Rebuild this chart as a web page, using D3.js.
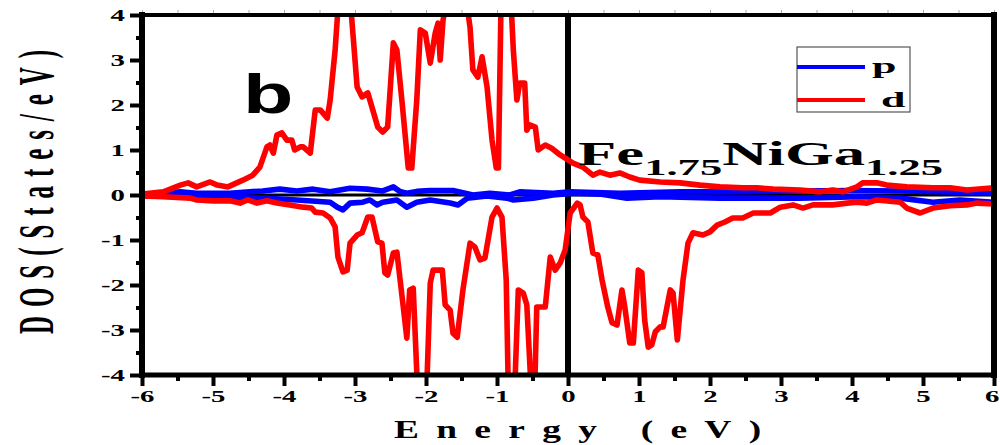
<!DOCTYPE html>
<html>
<head>
<meta charset="utf-8">
<script src="https://cdn.jsdelivr.net/npm/d3@7"></script>
<style>
  body { margin: 0; background: #ffffff; }
  svg { display: block; }
</style>
</head>
<body>
<svg id="chart" width="1000" height="445"></svg>
<script>
// ---- tick values ----
const xTickValues = [-6, -5, -4, -3, -2, -1, 0, 1, 2, 3, 4, 5, 6];
const yTickValues = [-4, -3, -2, -1, 0, 1, 2, 3, 4];
const xMinorTicks = [-5.5, -4.5, -3.5, -2.5, -1.5, -0.5, 0.5, 1.5, 2.5, 3.5, 4.5, 5.5];
const yMinorTicks = [-3.5, -2.5, -1.5, -0.5, 0.5, 1.5, 2.5, 3.5];

const legendLabels = ["p", "d"];

// ---- d states, spin up ----
const dUpEnergy = [-6.00,-5.70,-5.46,-5.35,-5.23,-5.04,-4.94,-4.79,-4.58,-4.44,-4.34,-4.24,-4.20,-4.15,-4.10,-4.03,-3.96,-3.89,-3.85,-3.77,-3.73,-3.63,-3.56,-3.49,-3.39,-3.35,-3.28,-3.22,-3.12,-3.06,-3.03,-2.97,-2.90,-2.82,-2.72,-2.68,-2.61,-2.54,-2.46,-2.41,-2.34,-2.25,-2.20,-2.13,-2.08,-2.01,-1.94,-1.87,-1.83,-1.80,-1.76,-1.68,-1.55,-1.44,-1.38,-1.34,-1.27,-1.21,-1.14,-1.07,-1.01,-0.98,-0.94,-0.86,-0.80,-0.77,-0.72,-0.68,-0.61,-0.58,-0.54,-0.46,-0.42,-0.32,-0.23,-0.11,0.07,0.21,0.35,0.45,0.59,0.73,0.87,1.01,1.30,1.58,1.86,2.14,2.46,2.66,2.89,3.27,3.55,3.73,3.87,4.07,4.15,4.35,4.49,4.77,5.14,5.38,5.62,6.00];
const dUpDos    = [0.02,0.07,0.22,0.27,0.18,0.29,0.22,0.18,0.33,0.44,0.62,1.07,1.11,0.93,1.33,1.38,1.22,1.22,1.00,1.07,1.07,0.93,1.89,1.89,1.71,2.11,3.22,4.60,4.90,4.20,3.60,2.40,2.18,2.27,1.73,1.51,1.40,1.51,3.38,3.22,2.11,0.60,0.60,2.11,3.67,3.60,2.93,3.60,3.82,3.00,3.89,4.50,4.90,4.40,3.73,2.78,2.62,3.07,2.40,1.22,0.60,0.60,4.60,4.80,4.20,3.22,2.11,2.49,2.49,1.44,1.56,1.51,1.00,1.11,1.04,0.89,0.71,0.62,0.44,0.51,0.44,0.49,0.40,0.33,0.29,0.27,0.22,0.18,0.16,0.16,0.13,0.11,0.07,0.11,0.07,0.18,0.27,0.27,0.22,0.18,0.16,0.16,0.11,0.16];

// ---- d states, spin down ----
const dDownEnergy = [-6.00,-5.70,-5.32,-5.23,-5.00,-4.76,-4.62,-4.51,-4.38,-4.24,-4.10,-3.92,-3.73,-3.61,-3.56,-3.45,-3.35,-3.28,-3.24,-3.17,-3.11,-3.07,-2.97,-2.90,-2.82,-2.76,-2.68,-2.62,-2.58,-2.54,-2.46,-2.41,-2.32,-2.27,-2.23,-2.18,-2.12,-2.06,-1.99,-1.94,-1.90,-1.77,-1.73,-1.66,-1.62,-1.56,-1.48,-1.38,-1.31,-1.24,-1.17,-1.07,-1.00,-0.93,-0.87,-0.84,-0.80,-0.75,-0.70,-0.63,-0.58,-0.52,-0.47,-0.44,-0.32,-0.25,-0.18,-0.11,-0.04,0.03,0.13,0.17,0.21,0.28,0.35,0.42,0.48,0.56,0.62,0.69,0.76,0.80,0.87,0.92,0.99,1.04,1.08,1.13,1.18,1.23,1.30,1.34,1.44,1.48,1.54,1.62,1.69,1.76,1.90,2.00,2.10,2.21,2.32,2.46,2.61,2.85,2.99,3.17,3.31,3.45,3.73,3.93,4.07,4.21,4.35,4.68,4.77,4.96,5.14,5.38,5.62,5.76,6.00];
const dDownDos    = [-0.02,-0.04,-0.07,-0.11,-0.13,-0.13,-0.18,-0.11,-0.18,-0.13,-0.18,-0.22,-0.27,-0.29,-0.38,-0.40,-0.51,-0.71,-1.38,-1.71,-1.67,-1.07,-0.89,-0.84,-0.49,-0.49,-1.04,-1.07,-1.73,-1.78,-1.29,-1.27,-2.49,-3.18,-2.11,-2.07,-4.30,-4.60,-4.30,-1.96,-1.67,-1.67,-2.44,-2.56,-3.07,-3.16,-2.11,-1.07,-1.16,-1.44,-1.40,-0.49,-0.29,-0.49,-1.89,-4.40,-4.60,-4.30,-2.11,-2.18,-2.44,-4.30,-4.40,-2.49,-2.49,-1.38,-1.67,-1.51,-1.22,-0.40,-0.18,-0.22,-0.49,-0.60,-1.29,-1.33,-1.89,-2.49,-2.84,-2.89,-2.11,-2.49,-3.29,-3.29,-1.67,-1.73,-2.78,-3.38,-3.33,-3.04,-2.93,-2.93,-2.11,-2.18,-3.22,-1.89,-1.07,-0.84,-0.89,-0.82,-0.67,-0.60,-0.51,-0.51,-0.40,-0.40,-0.27,-0.22,-0.29,-0.22,-0.22,-0.18,-0.16,-0.18,-0.11,-0.16,-0.29,-0.40,-0.29,-0.24,-0.22,-0.18,-0.20];

// ---- p states, spin up ----
const pUpEnergy = [-6.00,-5.46,-5.23,-4.76,-4.30,-4.06,-3.82,-3.59,-3.35,-3.07,-2.83,-2.61,-2.46,-2.37,-2.27,-2.13,-1.94,-1.62,-1.34,-1.10,-0.82,-0.68,-0.21,0.03,0.73,1.58,2.14,3.27,3.97,4.68,5.38,6.00];
const pUpDos    = [0.00,0.07,0.04,0.04,0.09,0.13,0.09,0.13,0.07,0.15,0.13,0.09,0.18,0.08,0.04,0.08,0.10,0.10,0.00,0.04,0.00,0.07,0.04,0.07,0.04,0.07,0.07,0.09,0.10,0.09,0.07,0.04];

// ---- p states, spin down ----
const pDownEnergy = [-6.00,-5.23,-4.30,-3.82,-3.35,-3.25,-3.17,-3.07,-2.89,-2.79,-2.69,-2.61,-2.41,-2.27,-2.13,-1.94,-1.66,-1.55,-1.42,-1.14,-0.86,-0.77,-0.49,-0.21,0.07,0.45,0.83,1.30,2.14,3.27,4.11,4.68,5.14,5.52,6.00];
const pDownDos    = [-0.02,-0.04,-0.07,-0.11,-0.16,-0.27,-0.33,-0.18,-0.16,-0.11,-0.22,-0.16,-0.11,-0.27,-0.16,-0.11,-0.18,-0.22,-0.07,-0.02,-0.07,-0.11,-0.07,0.00,0.04,0.02,-0.07,-0.04,-0.07,-0.07,-0.04,-0.07,-0.16,-0.11,-0.16];

const colorP = "#0000ff";
const colorD = "#ff0000";

// ---- layout ----
const svg = d3.select("#chart");
const plot = { left: 142, right: 994, top: 15, bottom: 375 };

const x = d3.scaleLinear().domain([-6, 6]).range([plot.left, plot.right]);
const y = d3.scaleLinear().domain([-4, 4]).range([plot.bottom, plot.top]);

const serif = "'Liberation Serif', 'Times New Roman', serif";
const sans = "'Liberation Sans', Arial, sans-serif";

svg.append("defs").append("clipPath").attr("id", "plot-clip")
  .append("rect")
  .attr("x", plot.left).attr("y", plot.top)
  .attr("width", plot.right - plot.left).attr("height", plot.bottom - plot.top);

// faint ticks along the top edge
const topAxis = svg.append("g")
  .attr("transform", `translate(0,${plot.top - 2})`)
  .call(d3.axisTop(x).tickValues(xTickValues.concat(xMinorTicks)).tickSize(3).tickFormat(""));
topAxis.select(".domain").remove();
topAxis.selectAll("line").attr("stroke", "#aaaaaa").attr("stroke-width", 1);

// zero reference lines
svg.append("line")
  .attr("x1", plot.left).attr("x2", plot.right)
  .attr("y1", y(0)).attr("y2", y(0))
  .attr("stroke", "#000").attr("stroke-width", 3);
svg.append("line")
  .attr("x1", x(0)).attr("x2", x(0))
  .attr("y1", plot.top).attr("y2", plot.bottom)
  .attr("stroke", "#000").attr("stroke-width", 6);

// ---- curves ----
const line = d3.line()
  .x(d => x(d[0]))
  .y(d => y(d[1]))
  .curve(d3.curveLinear);

const curves = [
  { e: pUpEnergy, v: pUpDos, color: colorP },
  { e: pDownEnergy, v: pDownDos, color: colorP },
  { e: dUpEnergy, v: dUpDos, color: colorD },
  { e: dDownEnergy, v: dDownDos, color: colorD }
];

const curveLayer = svg.append("g").attr("clip-path", "url(#plot-clip)");
curves.forEach(c => {
  curveLayer.append("path")
    .datum(c.e.map((e, i) => [e, c.v[i]]))
    .attr("d", line)
    .attr("fill", "none")
    .attr("stroke", c.color)
    .attr("stroke-width", 5.6)
    .attr("stroke-linejoin", "round")
    .attr("stroke-linecap", "round");
});

// ---- axes ----
const leftAxis = svg.append("g")
  .attr("transform", `translate(${plot.left},0)`)
  .call(d3.axisLeft(y).tickValues(yTickValues).tickSize(12).tickFormat(d => String(d)));
const leftMinor = svg.append("g")
  .attr("transform", `translate(${plot.left},0)`)
  .call(d3.axisLeft(y).tickValues(yMinorTicks).tickSize(6).tickFormat(""));

const bottomAxis = svg.append("g")
  .attr("transform", `translate(0,${plot.bottom})`)
  .call(d3.axisBottom(x).tickValues(xTickValues).tickSize(11).tickFormat(d => String(d)));
const bottomMinor = svg.append("g")
  .attr("transform", `translate(0,${plot.bottom})`)
  .call(d3.axisBottom(x).tickValues(xMinorTicks).tickSize(6).tickFormat(""));

[leftAxis, leftMinor, bottomAxis, bottomMinor].forEach(g => {
  g.select(".domain").remove();
  g.selectAll(".tick line").attr("stroke", "#000").attr("stroke-width", 4);
});

leftAxis.selectAll(".tick text")
  .attr("x", null).attr("dy", "0.36em")
  .attr("transform", "translate(-17,0) scale(1.8,1)")
  .attr("text-anchor", "end")
  .attr("font-family", serif).attr("font-weight", "bold").attr("font-size", 16)
  .attr("fill", "#000");

// the last label sits flush against the right edge of the figure
bottomAxis.selectAll(".tick text")
  .attr("y", null).attr("dy", null)
  .attr("transform", d => d === 6 ? "translate(5,27) scale(1.8,1)" : "translate(0,27) scale(1.8,1)")
  .attr("text-anchor", d => d === 6 ? "end" : "middle")
  .attr("font-family", serif).attr("font-weight", "bold").attr("font-size", 16)
  .attr("fill", "#000");

// ---- frame ----
const frame = svg.append("g").attr("stroke", "#000").attr("stroke-linecap", "square");
frame.append("line").attr("x1", plot.left).attr("x2", plot.right).attr("y1", plot.top).attr("y2", plot.top).attr("stroke-width", 4);
frame.append("line").attr("x1", plot.left).attr("x2", plot.right).attr("y1", plot.bottom).attr("y2", plot.bottom).attr("stroke-width", 5);
frame.append("line").attr("x1", plot.left).attr("x2", plot.left).attr("y1", plot.top).attr("y2", plot.bottom).attr("stroke-width", 6);
frame.append("line").attr("x1", plot.right).attr("x2", plot.right).attr("y1", plot.top).attr("y2", plot.bottom).attr("stroke-width", 6);

// ---- axis titles ----
svg.append("text")
  .attr("transform", "translate(394,438) scale(1.5,1)")
  .attr("x", 0).attr("y", 0)
  .attr("letter-spacing", 11.5)
  .attr("font-family", serif).attr("font-weight", "bold").attr("font-size", 25)
  .attr("fill", "#000")
  .text("Energy (eV)");

svg.append("text")
  .attr("transform", "translate(53,334) rotate(-90) scale(1,2.0)")
  .attr("x", 0).attr("y", 0)
  .attr("textLength", 284).attr("lengthAdjust", "spacing")
  .attr("font-family", serif).attr("font-weight", "bold").attr("font-size", 25)
  .attr("fill", "#000")
  .text("DOS(States/eV)");

// ---- panel letter ----
svg.append("text")
  .attr("transform", "translate(243,113) scale(1.5,1)")
  .attr("font-family", sans).attr("font-weight", "bold").attr("font-size", 55)
  .attr("fill", "#000")
  .text("b");

// ---- compound formula ----
const formula = svg.append("text")
  .attr("transform", "translate(578,165) scale(1.9,1)")
  .attr("font-family", serif).attr("font-weight", "bold")
  .attr("fill", "#000");
formula.append("tspan").attr("font-size", 33).text("Fe");
formula.append("tspan").attr("font-size", 23.5).attr("dy", 10).text("1.75");
formula.append("tspan").attr("font-size", 33).attr("dy", -10).text("NiGa");
formula.append("tspan").attr("font-size", 23.5).attr("dy", 10).text("1.25");

// ---- legend ----
const legend = svg.append("g");
legend.append("rect")
  .attr("x", 797).attr("y", 47).attr("width", 113).attr("height", 65)
  .attr("fill", "#fff").attr("stroke", "#555").attr("stroke-width", 1.2);
const legendColors = [colorP, colorD];
const legendRows = [67, 100];
legendLabels.forEach((lab, i) => {
  legend.append("line")
    .attr("x1", 797).attr("x2", 865)
    .attr("y1", legendRows[i]).attr("y2", legendRows[i])
    .attr("stroke", legendColors[i]).attr("stroke-width", 4);
  legend.append("text")
    .attr("transform", `translate(${i === 0 ? 872 : 881},${i === 0 ? 73 : 107}) scale(2,1)`)
    .attr("font-family", serif).attr("font-weight", "bold").attr("font-size", 22)
    .attr("fill", "#000")
    .text(lab);
});
</script>
</body>
</html>
